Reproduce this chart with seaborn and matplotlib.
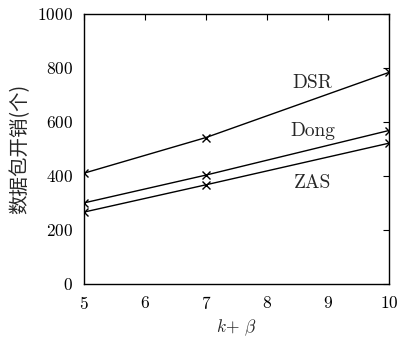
import pandas as pd
import matplotlib
matplotlib.use('Agg')
import matplotlib.pyplot as plt
import seaborn as sns

# data
x_vals = [5, 7, 10]
dsr = [410, 542, 783]
dong = [300, 403, 568]
zas = [266, 367, 521]
series_names = ['DSR', 'Dong', 'ZAS']

df = pd.DataFrame({
    'x': x_vals * 3,
    'y': dsr + dong + zas,
    'method': ['DSR'] * 3 + ['Dong'] * 3 + ['ZAS'] * 3,
})

sns.set_style('white')
plt.rcParams['font.family'] = ['cmr10', 'Noto Sans CJK SC']
plt.rcParams['mathtext.fontset'] = 'cm'
plt.rcParams['axes.formatter.use_mathtext'] = True

fig = plt.figure(figsize=(3.98, 3.38), dpi=100)
ax = fig.add_axes([0.211, 0.160, 0.766, 0.799])

sns.lineplot(data=df, x='x', y='y', units='method', estimator=None,
             color='black', linewidth=1.0, marker='x', markersize=6,
             markeredgecolor='black', markeredgewidth=1.0, legend=False, ax=ax)

# labels next to the lines
ax.text(8.75, 745, 'DSR', fontsize=14, ha='center', va='center')
ax.text(8.75, 567, 'Dong', fontsize=14, ha='center', va='center')
ax.text(8.75, 374, 'ZAS', fontsize=14, ha='center', va='center')

ax.set_xlim(5, 10)
ax.set_ylim(0, 1000)
ax.set_xticks([5, 6, 7, 8, 9, 10])
ax.set_yticks([0, 200, 400, 600, 800, 1000])
ax.tick_params(direction='in', top=True, right=True, length=4, width=0.8,
               labelsize=12.5, pad=8, colors='black')
for s in ax.spines.values():
    s.set_color('black')
    s.set_linewidth(1.0)

ax.set_xlabel(r'$k$+ $\beta$', fontsize=12.5, labelpad=4)
ax.set_ylabel('数据包开销(个)', fontsize=14, family=['Noto Sans CJK SC', 'DejaVu Sans'], labelpad=5)

plt.savefig('out.png', dpi=100)
